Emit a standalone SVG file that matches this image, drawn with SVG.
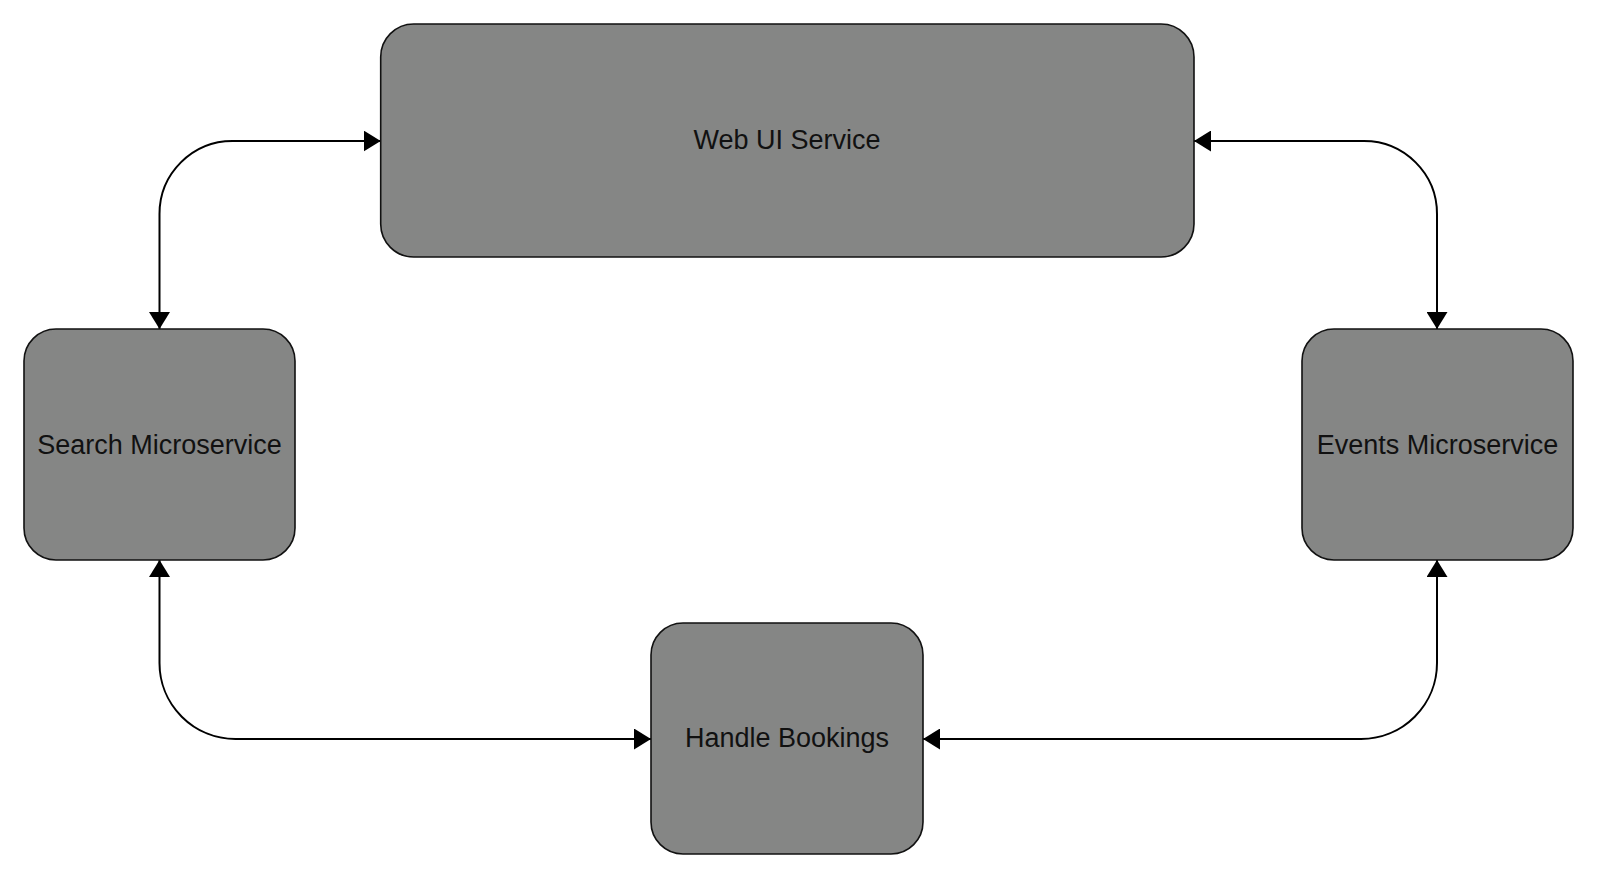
<svg xmlns="http://www.w3.org/2000/svg" width="1597" height="879" viewBox="0 0 1597 879">
<style>
.box{fill:#858685;stroke:#111;stroke-width:1.6}
.lbl{font-family:"Liberation Sans",Arial,sans-serif;font-size:27px;fill:#111;text-anchor:middle}
.conn{fill:none;stroke:#000;stroke-width:2}
</style>
<defs>
<marker id="ah" viewBox="0 0 17 21" refX="17" refY="10.5" markerUnits="userSpaceOnUse" markerWidth="17" markerHeight="21" orient="auto-start-reverse">
<path d="M0,0 L17,10.5 L0,21 Z" fill="#000"/>
</marker>
</defs>
<rect width="1597" height="879" fill="#fff"/>
<g id="connectors">
<path class="conn" d="M159.5,329 V214 A73,73 0 0 1 232.5,141 H380.7" marker-start="url(#ah)" marker-end="url(#ah)"/>
<path class="conn" d="M1194,141 H1364 A73,73 0 0 1 1437,214 V329" marker-start="url(#ah)" marker-end="url(#ah)"/>
<path class="conn" d="M159.5,560 V663 A76,76 0 0 0 235.5,739 H651" marker-start="url(#ah)" marker-end="url(#ah)"/>
<path class="conn" d="M923,739 H1361 A76,76 0 0 0 1437,663 V560" marker-start="url(#ah)" marker-end="url(#ah)"/>
</g>
<g id="web-ui">
<rect class="box" x="380.7" y="24" width="813.3" height="233" rx="33" ry="33"/>
<text class="lbl" x="787" y="149">Web UI Service</text>
</g>
<g id="search">
<rect class="box" x="24" y="329" width="271" height="231" rx="32" ry="32"/>
<text class="lbl" x="159.5" y="454">Search Microservice</text>
</g>
<g id="events">
<rect class="box" x="1302" y="329" width="271" height="231" rx="32" ry="32"/>
<text class="lbl" x="1437.5" y="454">Events Microservice</text>
</g>
<g id="bookings">
<rect class="box" x="651" y="623" width="272" height="231" rx="32" ry="32"/>
<text class="lbl" x="787" y="747">Handle Bookings</text>
</g>
</svg>
